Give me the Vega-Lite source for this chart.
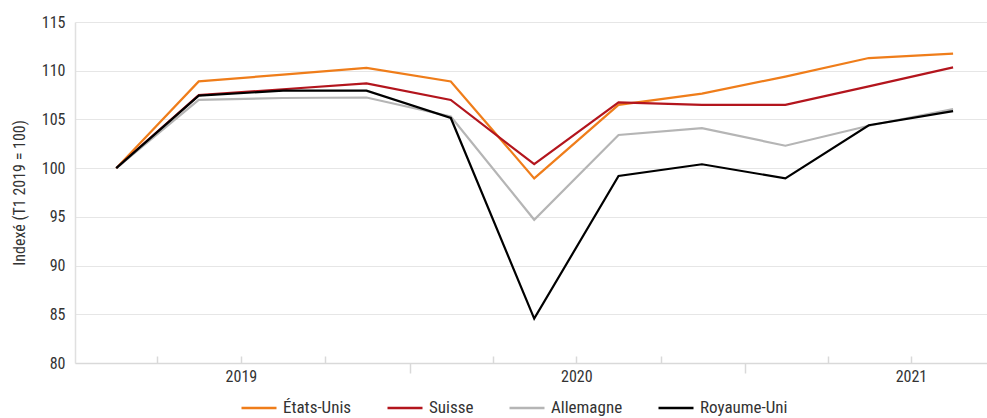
{
  "$schema": "https://vega.github.io/schema/vega-lite/v6.json",
  "width": 912,
  "height": 341,
  "autosize": {"type": "none"},
  "padding": {"left": 75, "top": 22, "right": 0, "bottom": 55},
  "background": "white",
  "config": {
    "font": "Liberation Sans Narrow, Roboto Condensed, DejaVu Sans Condensed, Roboto, sans-serif",
    "view": {"stroke": null}
  },
  "data": {
    "values": [
      {"date": "2019-02-15", "pays": "États-Unis", "valeur": 100},
      {"date": "2019-05-16", "pays": "États-Unis", "valeur": 108.9},
      {"date": "2019-08-16", "pays": "États-Unis", "valeur": 109.6},
      {"date": "2019-11-15", "pays": "États-Unis", "valeur": 110.3},
      {"date": "2020-02-15", "pays": "États-Unis", "valeur": 108.9},
      {"date": "2020-05-16", "pays": "États-Unis", "valeur": 98.95},
      {"date": "2020-08-16", "pays": "États-Unis", "valeur": 106.5},
      {"date": "2020-11-15", "pays": "États-Unis", "valeur": 107.65},
      {"date": "2021-02-14", "pays": "États-Unis", "valeur": 109.4},
      {"date": "2021-05-16", "pays": "États-Unis", "valeur": 111.3},
      {"date": "2021-08-16", "pays": "États-Unis", "valeur": 111.75},
      {"date": "2019-02-15", "pays": "Suisse", "valeur": 100},
      {"date": "2019-05-16", "pays": "Suisse", "valeur": 107.5},
      {"date": "2019-08-16", "pays": "Suisse", "valeur": 108.1},
      {"date": "2019-11-15", "pays": "Suisse", "valeur": 108.7},
      {"date": "2020-02-15", "pays": "Suisse", "valeur": 107.0},
      {"date": "2020-05-16", "pays": "Suisse", "valeur": 100.4},
      {"date": "2020-08-16", "pays": "Suisse", "valeur": 106.75},
      {"date": "2020-11-15", "pays": "Suisse", "valeur": 106.5},
      {"date": "2021-02-14", "pays": "Suisse", "valeur": 106.5},
      {"date": "2021-05-16", "pays": "Suisse", "valeur": 108.4},
      {"date": "2021-08-16", "pays": "Suisse", "valeur": 110.35},
      {"date": "2019-02-15", "pays": "Allemagne", "valeur": 100},
      {"date": "2019-05-16", "pays": "Allemagne", "valeur": 107.0},
      {"date": "2019-08-16", "pays": "Allemagne", "valeur": 107.2},
      {"date": "2019-11-15", "pays": "Allemagne", "valeur": 107.25},
      {"date": "2020-02-15", "pays": "Allemagne", "valeur": 105.3},
      {"date": "2020-05-16", "pays": "Allemagne", "valeur": 94.7},
      {"date": "2020-08-16", "pays": "Allemagne", "valeur": 103.4},
      {"date": "2020-11-15", "pays": "Allemagne", "valeur": 104.1},
      {"date": "2021-02-14", "pays": "Allemagne", "valeur": 102.3},
      {"date": "2021-05-16", "pays": "Allemagne", "valeur": 104.35},
      {"date": "2021-08-16", "pays": "Allemagne", "valeur": 106.05},
      {"date": "2019-02-15", "pays": "Royaume-Uni", "valeur": 100},
      {"date": "2019-05-16", "pays": "Royaume-Uni", "valeur": 107.45},
      {"date": "2019-08-16", "pays": "Royaume-Uni", "valeur": 107.95},
      {"date": "2019-11-15", "pays": "Royaume-Uni", "valeur": 107.95},
      {"date": "2020-02-15", "pays": "Royaume-Uni", "valeur": 105.15},
      {"date": "2020-05-16", "pays": "Royaume-Uni", "valeur": 84.55},
      {"date": "2020-08-16", "pays": "Royaume-Uni", "valeur": 99.2},
      {"date": "2020-11-15", "pays": "Royaume-Uni", "valeur": 100.4},
      {"date": "2021-02-14", "pays": "Royaume-Uni", "valeur": 98.95},
      {"date": "2021-05-16", "pays": "Royaume-Uni", "valeur": 104.4},
      {"date": "2021-08-16", "pays": "Royaume-Uni", "valeur": 105.85}
    ]
  },
  "mark": {"type": "line", "strokeWidth": 2.2, "clip": false},
  "encoding": {
    "x": {
      "field": "date",
      "type": "temporal",
      "scale": {"type": "utc", "domain": [{"year": 2019, "month": 1, "date": 1, "utc": true}, {"year": 2021, "month": 9, "date": 22, "utc": true}], "nice": false},
      "axis": {
        "title": null,
        "grid": false,
        "values": [
          {"year": 2019, "month": 4, "date": 1, "utc": true},
          {"year": 2019, "month": 7, "date": 1, "utc": true},
          {"year": 2019, "month": 10, "date": 1, "utc": true},
          {"year": 2020, "month": 1, "date": 1, "utc": true},
          {"year": 2020, "month": 4, "date": 1, "utc": true},
          {"year": 2020, "month": 7, "date": 1, "utc": true},
          {"year": 2020, "month": 10, "date": 1, "utc": true},
          {"year": 2021, "month": 1, "date": 1, "utc": true},
          {"year": 2021, "month": 4, "date": 1, "utc": true},
          {"year": 2021, "month": 7, "date": 1, "utc": true}
        ],
        "labelExpr": "utcmonth(datum.value) == 6 ? utcFormat(datum.value, '%Y') : ''",
        "domainColor": "#d9d9d9",
        "domainWidth": 1.5,
        "tickColor": "#d9d9d9",
        "tickWidth": 1.5,
        "tickSize": {"condition": {"test": "utcmonth(datum.value) == 0", "value": 10}, "value": -7},
        "labelPadding": 12,
        "labelFontSize": 16,
        "labelColor": "#333333",
        "labelFlush": false,
        "labelOverlap": false
      }
    },
    "y": {
      "field": "valeur",
      "type": "quantitative",
      "scale": {"domain": [80, 115], "nice": false, "zero": false},
      "axis": {
        "title": "Indexé (T1 2019 = 100)",
        "titleFontSize": 16,
        "titleFontWeight": "normal",
        "titleColor": "#333333",
        "titlePadding": 14,
        "values": [80, 85, 90, 95, 100, 105, 110, 115],
        "ticks": false,
        "domainColor": "#e0e0e0",
        "domainWidth": 1.5,
        "gridColor": "#e6e6e6",
        "gridWidth": 1.2,
        "labelPadding": 10,
        "labelFontSize": 16,
        "labelColor": "#333333"
      }
    },
    "color": {
      "field": "pays",
      "type": "nominal",
      "scale": {
        "domain": ["États-Unis", "Suisse", "Allemagne", "Royaume-Uni"],
        "range": ["#ef7d1a", "#b3151d", "#b5b5b5", "#000000"]
      },
      "legend": {
        "title": null,
        "orient": "none",
        "legendX": 165,
        "legendY": 367,
        "direction": "horizontal",
        "columns": 4,
        "columnPadding": 30,
        "symbolType": "stroke",
        "symbolSize": 1225,
        "symbolStrokeWidth": 2.5,
        "labelFontSize": 17,
        "labelColor": "#333333",
        "labelOffset": 5
      }
    }
  }
}
